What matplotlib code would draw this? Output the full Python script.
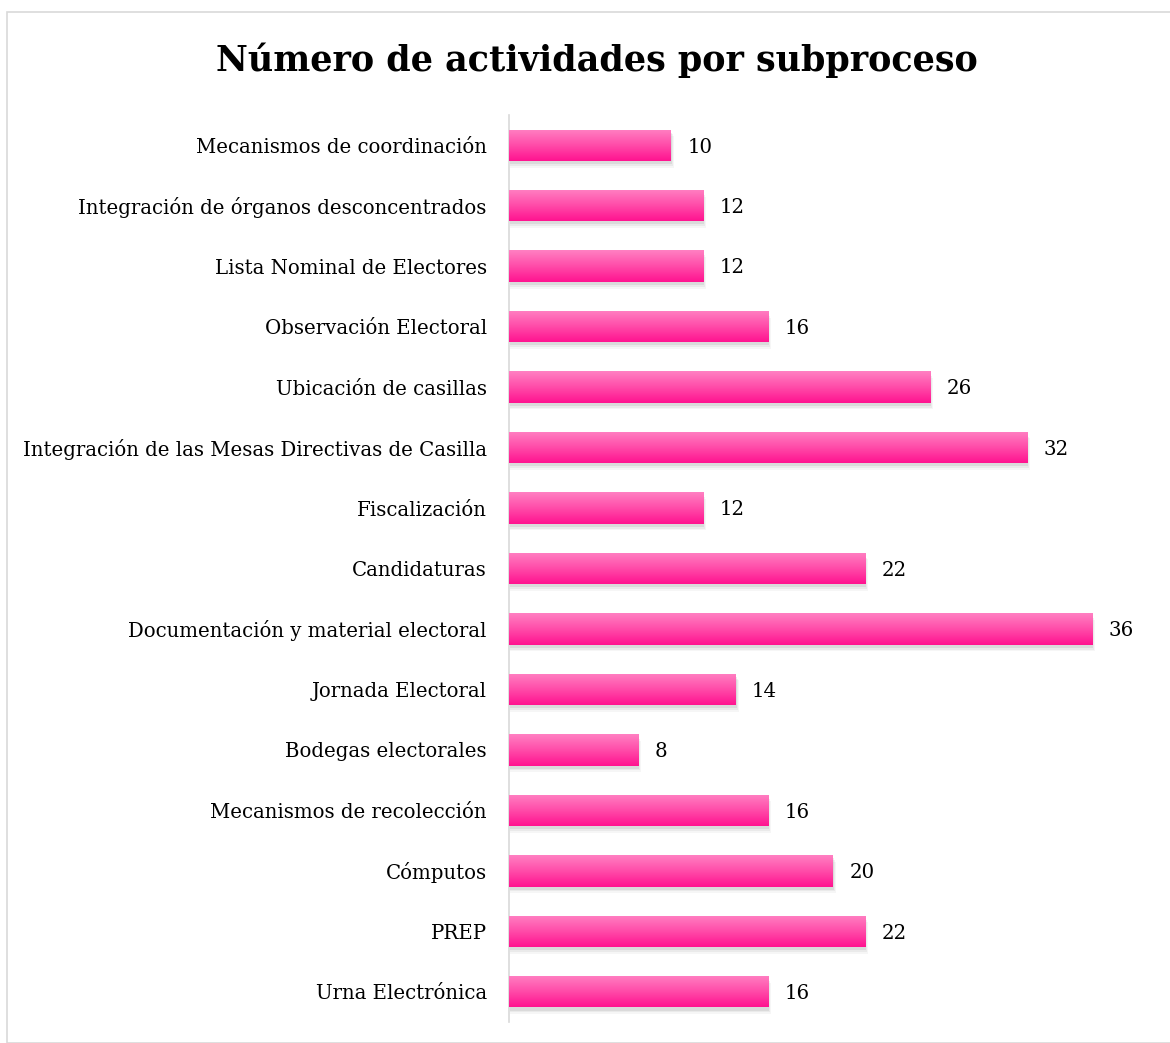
import numpy as np
import matplotlib
matplotlib.use("Agg")
import matplotlib.pyplot as plt
from matplotlib.colors import LinearSegmentedColormap
from matplotlib.patches import Rectangle

categorias = ["Mecanismos de coordinación",
              "Integración de órganos desconcentrados",
              "Lista Nominal de Electores",
              "Observación Electoral",
              "Ubicación de casillas",
              "Integración de las Mesas Directivas de Casilla",
              "Fiscalización",
              "Candidaturas",
              "Documentación y material electoral",
              "Jornada Electoral",
              "Bodegas electorales",
              "Mecanismos de recolección",
              "Cómputos",
              "PREP",
              "Urna Electrónica"]
actividades = [10, 12, 12, 16, 26, 32, 12, 22, 36, 14, 8, 16, 20, 22, 16]

FUENTE = ["DejaVu Serif"]
W, H = 1170, 1043

fig = plt.figure(figsize=(W / 100, H / 100), dpi=100)
fig.patches.append(Rectangle((7 / W, 0), 1, 1 - 12 / H, transform=fig.transFigure,
                             fill=False, edgecolor="#D9D9D9", linewidth=1.2))

# ejes: izquierda en x=509 px, de y=115 a y=1022 px
ax = fig.add_axes([509 / W, 1 - 1022 / H, (1157 - 509) / W, (1022 - 115) / H])

y = np.arange(len(categorias))
alto = 0.52
barras = ax.barh(y, actividades, height=alto, color="none", edgecolor="none", zorder=3)

cmap = LinearSegmentedColormap.from_list("rosa", ["#FF80C2", "#FF4CA9", "#FF1390"])
grad = np.linspace(0, 1, 64).reshape(-1, 1)

for b, v in zip(barras, actividades):
    x0, y0 = b.get_x(), b.get_y()
    w, h = b.get_width(), b.get_height()
    # sombra
    for k, a in enumerate([0.12, 0.09, 0.06]):
        off = 0.05 + 0.03 * k
        ax.add_patch(Rectangle((x0 + 0.05, y0 + off), w + 0.06 * k, h, facecolor="#707070",
                               edgecolor="none", alpha=a, zorder=2))
    im = ax.imshow(grad, extent=(x0, x0 + w, y0, y0 + h), origin="lower",
                   aspect="auto", cmap=cmap, zorder=4, interpolation="bilinear")
    im.set_clip_path(b)
    ax.text(x0 + w + 1.0, y0 + h / 2 + 0.03, str(v), va="center", ha="left",
            fontsize=14.2, family=FUENTE, color="#000000")

ax.set_xlim(0, 40)
ax.set_ylim(len(categorias) - 0.5, -0.5)
ax.set_yticks(y)
ax.set_yticklabels(categorias, fontsize=14.2, family=FUENTE)
ax.tick_params(axis="y", length=0, pad=16)
ax.set_xticks([])
for s in ["top", "right", "bottom"]:
    ax.spines[s].set_visible(False)
ax.spines["left"].set_color("#D9D9D9")
ax.spines["left"].set_linewidth(1.2)

fig.text(597 / W, 1 - 60 / H, "Número de actividades por subproceso", ha="center", va="center",
         fontsize=25.2, fontweight="bold", family=FUENTE)

fig.savefig("out.png", dpi=100)
